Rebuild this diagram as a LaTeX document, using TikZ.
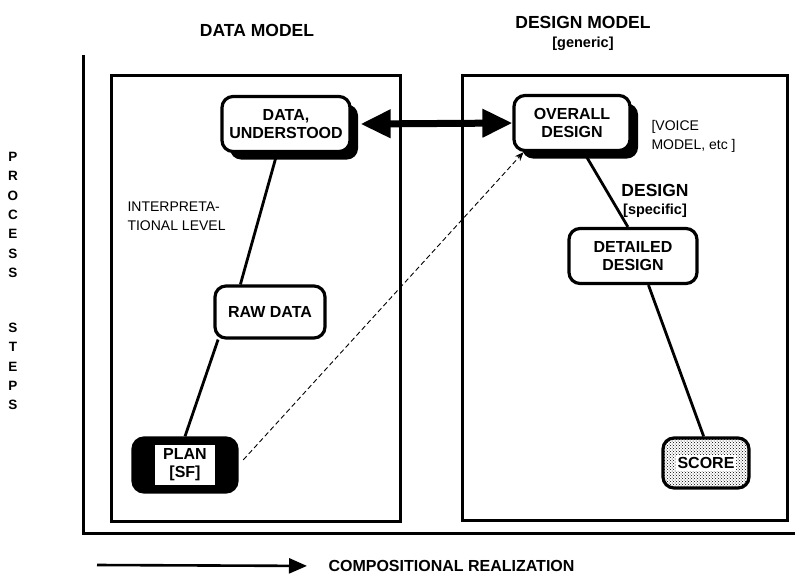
\documentclass[tikz,border=0pt]{standalone}
\usepackage{fontspec}
\setmainfont{Liberation Sans}
\usetikzlibrary{arrows.meta,shadows,patterns}

\tikzset{
  stage/.style={draw, line width=3.2pt, rounded corners=11pt, align=center,
    inner sep=2pt, font=\fontsize{16}{17.5}\selectfont\bfseries},
  shadowed/.style={general shadow={fill=black, shadow xshift=8pt, shadow yshift=-8pt}},
  frame/.style={line width=3pt},
  link/.style={line width=2.8pt},
  letter/.style={font=\fontsize{13.5}{14}\selectfont\bfseries, inner sep=0pt},
}

\begin{document}
\begin{tikzpicture}[x=1pt, y=-1pt]
    \useasboundingbox (0,0) rectangle (795,576);

    % axes and the two model frames
    \draw[frame] (83,55) |- (795,533);
    \draw[frame] (111,75) rectangle (400,521);
    \draw[frame] (462,75) rectangle (787,520);

    % headings
    \node[font=\fontsize{17.5}{18}\selectfont\bfseries] (datatitle) at (257,30) {DATA MODEL};
    \node[font=\fontsize{17.5}{18}\selectfont\bfseries] (designtitle) at (583,22) {DESIGN MODEL};
    \node[font=\fontsize{14.5}{15}\selectfont\bfseries] (generic) at (583,44) {[generic]};

    % stages
    \node[stage, shadowed, fill=white, minimum width=128pt, minimum height=55pt] (datau) at (286,124) {DATA,\\UNDERSTOOD};
    \node[stage, shadowed, fill=white, minimum width=116pt, minimum height=55pt] (overall) at (572,123) {OVERALL\\DESIGN};
    \node[stage, minimum width=128pt, minimum height=55pt] (detailed) at (633,256) {DETAILED\\DESIGN};
    \node[stage, minimum width=110pt, minimum height=52pt] (raw) at (270,312) {RAW DATA};
    \node[stage, fill=black, minimum width=104pt, minimum height=54pt] (plan) at (185,465) {};
    \node[fill=white, align=center, font=\fontsize{16}{18}\selectfont\bfseries,
      minimum width=60pt, minimum height=40pt, inner sep=1pt] (planlbl) at (plan) {PLAN\\{}[SF]};
    \node[stage, pattern=crosshatch dots, minimum width=86pt, minimum height=50pt] (score) at (706,463) {};
    \node[fill=white, font=\fontsize{16}{17}\selectfont\bfseries, inner sep=2pt] (scorelbl) at (score) {SCORE};

    % side notes
    \node[font=\fontsize{14}{19}\selectfont, align=left, anchor=north west] (voice) at (648,117) {[VOICE\\MODEL, etc ]};
    \node[font=\fontsize{17.5}{18}\selectfont\bfseries] (design) at (655,190) {DESIGN};
    \node[font=\fontsize{14.5}{15}\selectfont\bfseries] (specific) at (655,211) {[specific]};
    \node[font=\fontsize{14}{19}\selectfont, align=left, anchor=west] (interp) at (124,216) {INTERPRETA-\\TIONAL LEVEL};

    % vertical axis title
    \foreach \ch [count=\i] in {P,R,O,C,E,S,S}
        \node[letter] (proc\i) at (13,{157+19.3*(\i-1)}) {\ch};
    \foreach \ch [count=\i] in {S,T,E,P,S}
        \node[letter] (steps\i) at (13,{328+19.3*(\i-1)}) {\ch};

    % connectors
    \draw[link] (datau.-107) -- (raw.137);
    \draw[link] (raw.-152) -- (plan.north);
    \draw[link] (overall.-68) -- (detailed.100);
    \draw[link] (detailed.-62) -- (score.95);
    \draw[dash pattern=on 5pt off 3pt, line width=0.9pt, -{Stealth[length=9pt,width=7pt]}, shorten <=7pt]
        (plan.east) -- (overall.-149);
    \draw[line width=7pt, {Triangle[length=30pt,width=27pt]}-{Triangle[length=30pt,width=27pt]}]
        ([xshift=9pt]datau.east) -- (overall.west);

    % horizontal axis title
    \coordinate (realstart) at (97,565);
    \node[font=\fontsize{16}{17}\selectfont\bfseries, anchor=west] (realiz) at (325,566) {COMPOSITIONAL REALIZATION};
    \draw[line width=2.6pt, -{Triangle[length=18pt,width=15pt]}, shorten >=18pt] (realstart) -- (realiz.west);
\end{tikzpicture}
\end{document}
